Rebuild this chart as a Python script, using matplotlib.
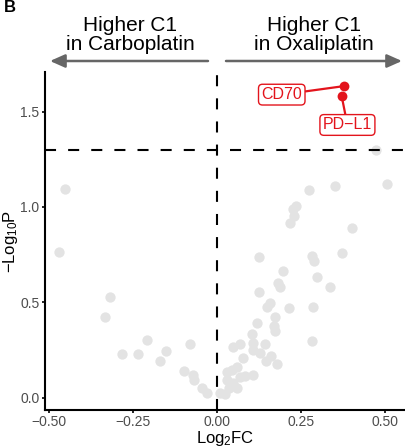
import numpy as np
import matplotlib.pyplot as plt

plt.rcParams['font.family'] = ['Liberation Sans', 'DejaVu Sans']
plt.rcParams['mathtext.default'] = 'regular'

# non-significant genes (log2FC, -log10 P)
logfc = np.array([-0.451, -0.470, -0.319, -0.333, -0.282, -0.235, -0.207, -0.170,
                  -0.153, -0.080, -0.097, -0.072, -0.069, -0.045, -0.031, 0.009,
                  0.024, 0.034, 0.029, 0.044, 0.058, 0.068, 0.060, 0.029, 0.048,
                  0.083, 0.108, 0.076, 0.048, 0.068, 0.103, 0.108, 0.108, 0.128,
                  0.143, 0.146, 0.159, 0.179, 0.118, 0.169, 0.172, 0.171, 0.148,
                  0.158, 0.123, 0.182, 0.187, 0.197, 0.214, 0.286, 0.282, 0.296,
                  0.334, 0.272, 0.235, 0.225, 0.227, 0.217, 0.125, 0.281, 0.289,
                  0.350, 0.506, 0.472, 0.402, 0.371])
neglogp = np.array([1.092, 0.762, 0.529, 0.425, 0.229, 0.229, 0.302, 0.194,
                    0.246, 0.283, 0.140, 0.117, 0.093, 0.049, 0.026, 0.023,
                    0.019, 0.049, 0.136, 0.145, 0.162, 0.110, 0.049, 0.093, 0.075,
                    0.114, 0.119, 0.206, 0.264, 0.281, 0.334, 0.285, 0.250, 0.233,
                    0.281, 0.194, 0.219, 0.177, 0.393, 0.377, 0.421, 0.350, 0.474,
                    0.495, 0.556, 0.603, 0.582, 0.666, 0.469, 0.477, 0.297, 0.631,
                    0.582, 1.089, 1.005, 0.987, 0.952, 0.917, 0.736, 0.743, 0.718,
                    1.110, 1.120, 1.298, 0.891, 0.760])

# significant genes
sig_genes = ['CD70', 'PD\u2212L1']
sig_fc = [0.378, 0.370]
sig_p = [1.634, 1.581]
label_pos = [(0.192, 1.589), (0.387, 1.430)]

red = '#E3141C'
fig = plt.figure(figsize=(4.06, 4.48), dpi=100)
ax = fig.add_axes([0.111, 0.085, 0.889, 0.754])

ax.scatter(logfc, neglogp, s=55, color='#E3E3E3', linewidths=0, zorder=2)
ax.axhline(1.30, color='black', lw=1.5, ls=(0, (5.3, 5.8)), zorder=3)
ax.axvline(0, color='black', lw=1.5, ls=(0, (5.3, 5.8)), zorder=3)
ax.scatter(sig_fc, sig_p, s=50, color=red, linewidths=0, zorder=5)

for g, x, y, (lx, ly) in zip(sig_genes, sig_fc, sig_p, label_pos):
    ax.annotate(g, xy=(x, y), xytext=(lx, ly), ha='center', va='center',
                color=red, fontsize=11.5, zorder=4,
                bbox=dict(boxstyle='round,pad=0.18,rounding_size=0.25', fc='white', ec=red, lw=1),
                arrowprops=dict(arrowstyle='-', color=red, lw=1.6, shrinkA=0, shrinkB=0))

ax.set_xlim(-0.511, 0.561)
ax.set_ylim(-0.064, 1.707)
ax.set_xticks([-0.5, -0.25, 0, 0.25, 0.5])
ax.set_xticklabels(['\u22120.50', '\u22120.25', '0.00', '0.25', '0.50'])
ax.set_yticks([0, 0.5, 1.0, 1.5])
ax.set_yticklabels(['0.0', '0.5', '1.0', '1.5'])
ax.tick_params(length=2.5, width=1.2, colors='black', labelcolor='#4D4D4D', labelsize=10, pad=1.5)
for s in ['top', 'right']:
    ax.spines[s].set_visible(False)
for s in ['left', 'bottom']:
    ax.spines[s].set_linewidth(1.5)
ax.set_xlabel('Log$_2$FC', fontsize=12, labelpad=0)
ax.set_ylabel('\u2212Log$_{10}$P', fontsize=12, labelpad=0)

# header arrows and text
H = 448
for x0, x1 in [(208, 50), (226, 402)]:
    ax.annotate('', xy=(x1, H - 61), xytext=(x0, H - 61), xycoords='figure pixels',
                textcoords='figure pixels',
                arrowprops=dict(arrowstyle='-|>,head_length=0.9,head_width=0.4', color='#666666',
                                lw=1.8, mutation_scale=10, shrinkA=0, shrinkB=0))
fig.text(130 / 406, 1 - 35 / H, 'Higher C1\nin Carboplatin', ha='center', va='center',
         fontsize=15, linespacing=1.02)
fig.text(314 / 406, 1 - 35 / H, 'Higher C1\nin Oxaliplatin', ha='center', va='center',
         fontsize=15, linespacing=1.02)
fig.text(4 / 406, 1 - 0.5 / H, 'B', ha='left', va='top', fontsize=12, fontweight='bold')

fig.savefig('out.png', dpi=100)
